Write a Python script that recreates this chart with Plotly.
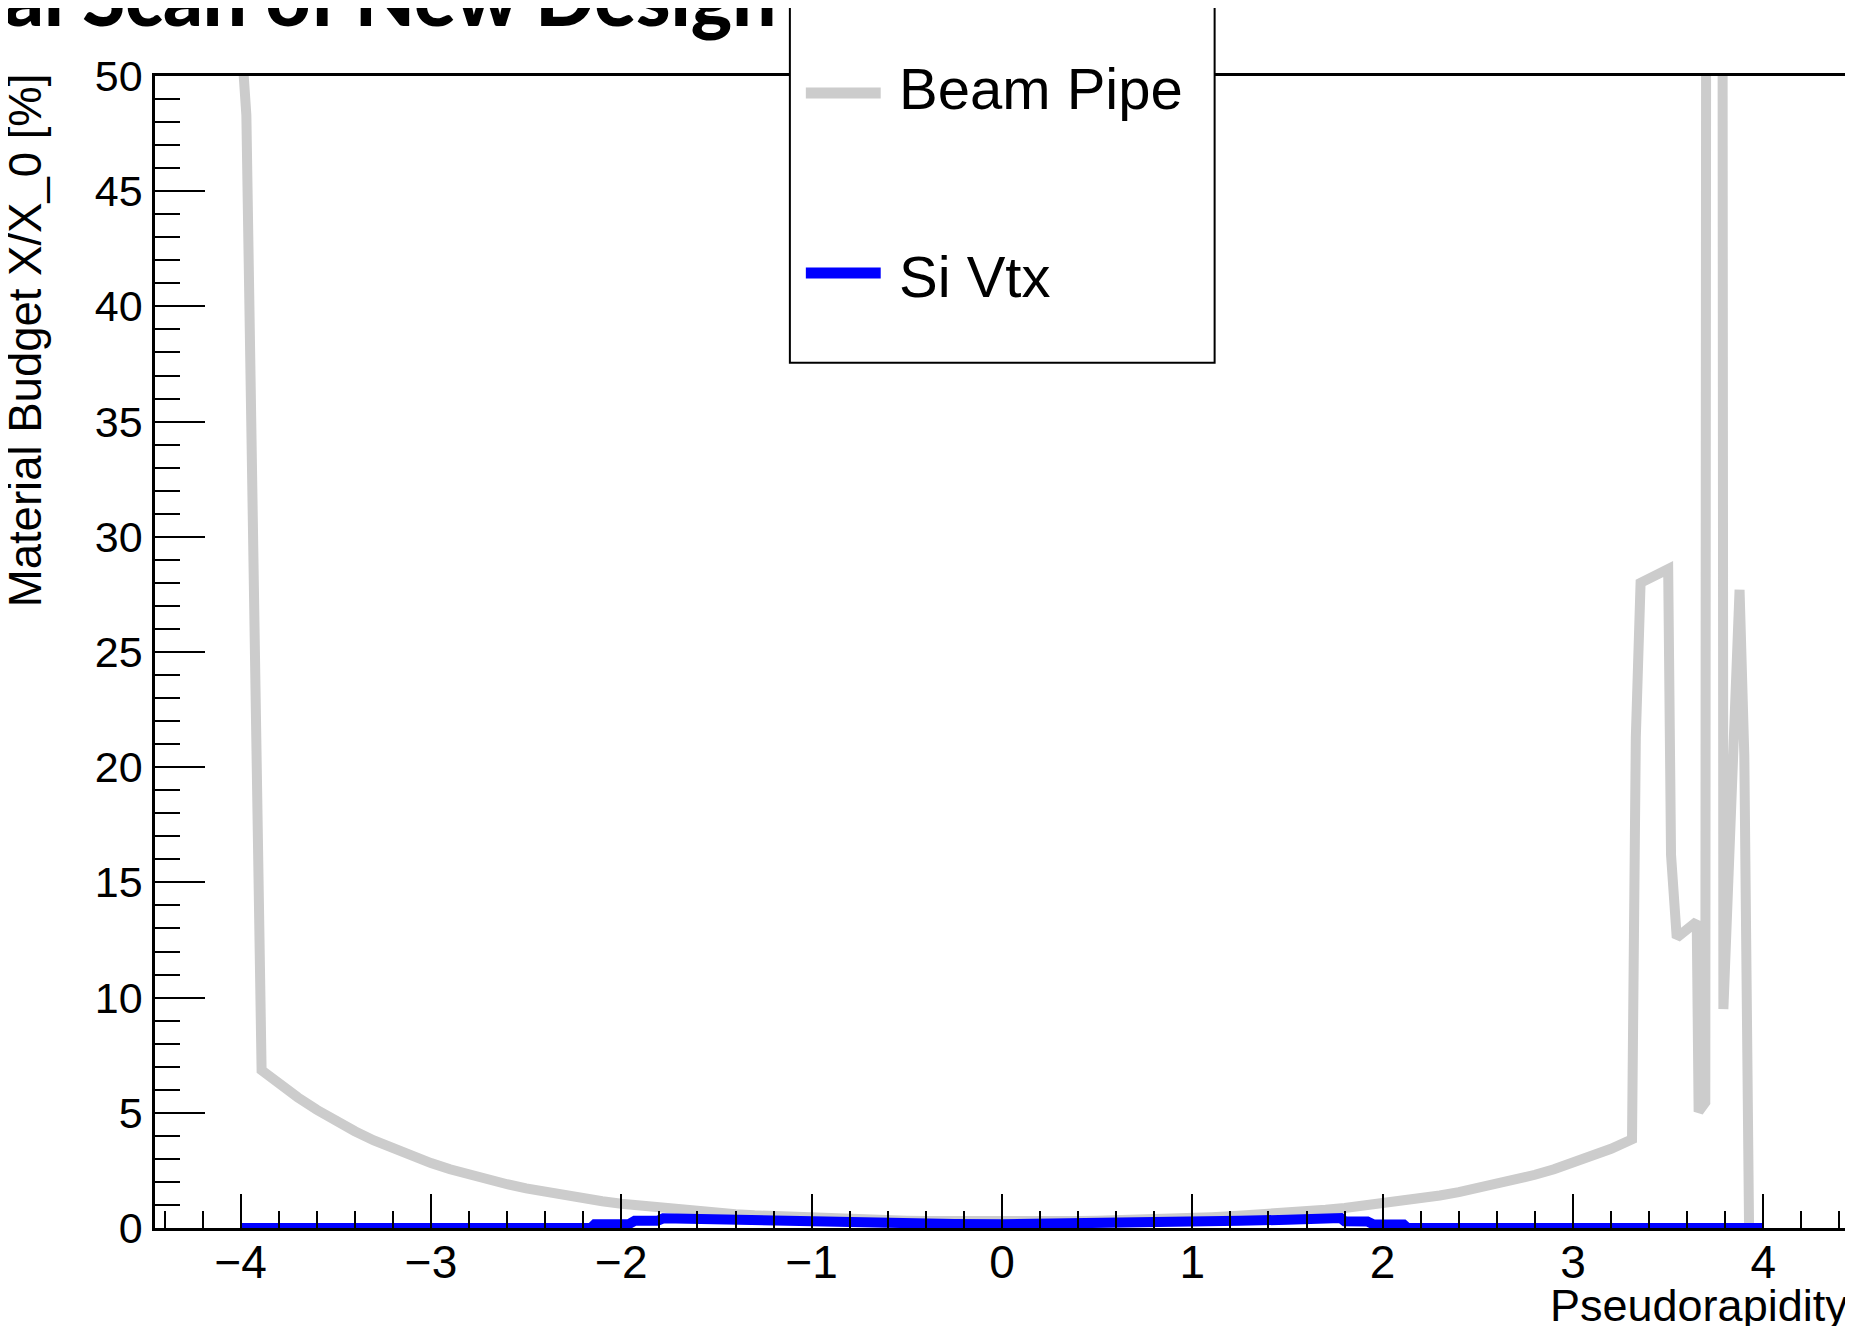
import plotly.graph_objects as go

# Beam Pipe: pseudorapidity vs material budget X/X0 [%]
bp_eta = [-4.00, -3.97, -3.89, -3.8, -3.7, -3.6, -3.5, -3.4, -3.3, -3.2, -3.1,
          -3.0, -2.9, -2.8, -2.7, -2.6, -2.5, -2.4, -2.3, -2.2, -2.1,
          -2.0, -1.9, -1.8, -1.7, -1.6, -1.5, -1.4, -1.3, -1.2, -1.1,
          -1.0, -0.9, -0.8, -0.7, -0.6, -0.5, -0.4, -0.3, -0.2, -0.1,
          0.0, 0.1, 0.2, 0.3, 0.4, 0.5, 0.6, 0.7, 0.8, 0.9,
          1.0, 1.1, 1.2, 1.3, 1.4, 1.5, 1.6, 1.7, 1.8, 1.9,
          2.0, 2.1, 2.2, 2.3, 2.4, 2.5, 2.6, 2.7, 2.8, 2.9,
          3.0, 3.1, 3.2, 3.31, 3.33, 3.355, 3.50, 3.515, 3.545, 3.65,
          3.66, 3.695, 3.70, 3.785, 3.79, 3.875, 3.90, 3.925, 4.0]
bp_val = [52.0, 48.3, 6.85, 6.26, 5.67, 5.13, 4.64, 4.20, 3.80, 3.44, 3.11,
          2.82, 2.55, 2.31, 2.09, 1.90, 1.72, 1.56, 1.41, 1.28, 1.16,
          1.05, 0.96, 0.87, 0.79, 0.72, 0.66, 0.60, 0.55, 0.51, 0.47,
          0.43, 0.40, 0.37, 0.35, 0.33, 0.32, 0.30, 0.29, 0.29, 0.28,
          0.28, 0.28, 0.29, 0.29, 0.30, 0.32, 0.33, 0.35, 0.37, 0.40,
          0.43, 0.47, 0.51, 0.55, 0.60, 0.66, 0.72, 0.79, 0.87, 0.96,
          1.05, 1.16, 1.28, 1.41, 1.56, 1.72, 1.90, 2.09, 2.31, 2.55,
          2.82, 3.11, 3.44, 3.85, 21.3, 28.0, 28.6, 16.2, 12.6, 13.3,
          5.05, 5.45, 60.0, 60.0, 9.5, 27.7, 20.5, 0.0, 0.0]

# Si Vtx
si_eta = [-4.0, -2.16, -2.14, -1.96, -1.93, -1.81, -1.78, -1.5, -1.25, -1.0,
          -0.75, -0.5, -0.25, 0.0, 0.25, 0.5, 0.75, 1.0, 1.25, 1.5,
          1.78, 1.80, 1.92, 1.95, 2.11, 2.13, 4.0]
si_val = [0.0, 0.0, 0.16, 0.17, 0.31, 0.31, 0.42, 0.36, 0.31, 0.26,
          0.22, 0.19, 0.17, 0.16, 0.17, 0.19, 0.22, 0.26, 0.31, 0.36,
          0.43, 0.29, 0.28, 0.16, 0.15, 0.0, 0.0]

W, H = 1853, 1326
OFF = 8  # page body margin, positions below are given in screen pixels
PLOT_X0, PLOT_X1, PLOT_Y0, PLOT_Y1 = 155, 1852, 76, 1228
L, R = PLOT_X0 - OFF, W - (PLOT_X1 - OFF)
T, B = PLOT_Y0 - OFF, H - (PLOT_Y1 - OFF)
FONT = "Liberation Sans"


def px(x):
    return (x - PLOT_X0) / (PLOT_X1 - PLOT_X0)


def py(y):
    return (PLOT_Y1 - y) / (PLOT_Y1 - PLOT_Y0)


fig = go.Figure()
fig.add_trace(go.Scatter(x=bp_eta, y=bp_val, mode="lines", name="Beam Pipe",
                         line=dict(color="#cccccc", width=10)))
fig.add_trace(go.Scatter(x=si_eta, y=si_val, mode="lines", name="Si Vtx",
                         line=dict(color="#0000ff", width=10)))

axis_common = dict(showgrid=False, zeroline=False, showline=True, linecolor="black",
                   linewidth=2.5, mirror=True, ticks="inside", tickcolor="black",
                   tickwidth=2)

fig.update_xaxes(range=[-4.45, 4.45], dtick=1, tick0=0, ticklen=34,
                 tickfont=dict(family=FONT, size=46, color="black"),
                 ticklabelstandoff=-8,
                 minor=dict(dtick=0.2, ticks="inside", ticklen=17, tickwidth=2,
                            tickcolor="black", showgrid=False),
                 **axis_common)
fig.update_yaxes(range=[0, 50], dtick=5, tick0=0, ticklen=50,
                 tickfont=dict(family=FONT, size=43, color="black"),
                 ticklabelstandoff=1,
                 minor=dict(dtick=1, ticks="inside", ticklen=25, tickwidth=2,
                            tickcolor="black", showgrid=False),
                 **axis_common)

# legend box drawn ROOT style
fig.add_shape(type="rect", xref="paper", yref="paper",
              x0=px(791), x1=px(1216.5), y0=py(362.7), y1=py(3.3),
              line=dict(color="black", width=2), fillcolor="white", layer="above")
fig.add_shape(type="line", xref="paper", yref="paper",
              x0=px(807), x1=px(882), y0=py(93), y1=py(93),
              line=dict(color="#cccccc", width=11), layer="above")
fig.add_shape(type="line", xref="paper", yref="paper",
              x0=px(807), x1=px(882), y0=py(273), y1=py(273),
              line=dict(color="#0000ff", width=11), layer="above")

annotations = [
    dict(text="Beam Pipe", x=px(899), y=py(89), xanchor="left", yanchor="middle",
         font=dict(family=FONT, size=58, color="black")),
    dict(text="Si Vtx", x=px(899), y=py(277), xanchor="left", yanchor="middle",
         font=dict(family=FONT, size=58, color="black")),
    dict(text="Material Budget X/X_0 [%]", x=px(26), y=py(72), textangle=-90,
         xanchor="center", yanchor="top",
         font=dict(family=FONT, size=45.5, color="black")),
    dict(text="Pseudorapidity", x=px(1852), y=py(1305), xanchor="right",
         yanchor="middle", font=dict(family=FONT, size=45, color="black")),
    dict(text="al Scan of New Design", x=px(778), y=py(-4), xanchor="right",
         yanchor="middle",
         font=dict(family="Lato", size=78, color="black", weight=900)),
]
for a in annotations:
    a.update(xref="paper", yref="paper", showarrow=False, borderpad=0)

fig.update_layout(width=W, height=H, margin=dict(l=L, r=R, t=T, b=B),
                  paper_bgcolor="white", plot_bgcolor="white", showlegend=False,
                  annotations=annotations)

fig.write_html("out.html")
